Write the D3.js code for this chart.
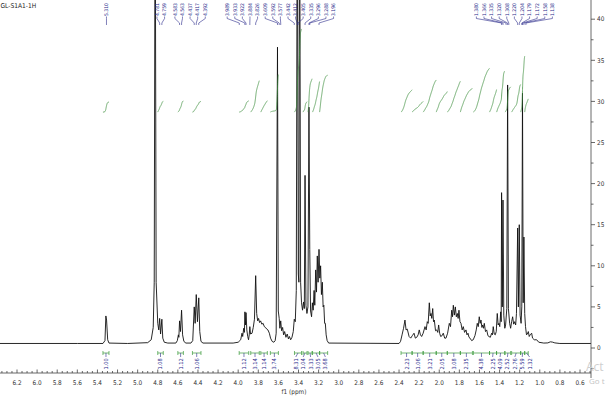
<!DOCTYPE html>
<html><head><meta charset="utf-8">
<script src="https://cdn.jsdelivr.net/npm/d3@7"></script>
<style>html,body{margin:0;padding:0;background:#fff;overflow:hidden}</style>
</head><body><svg id="c" width="607" height="396"></svg>
<script>
// ---------------- data ----------------
const title = "GL-S1A1-1H";
const xTickLabels = [6.2,6.0,5.8,5.6,5.4,5.2,5.0,4.8,4.6,4.4,4.2,4.0,3.8,3.6,3.4,3.2,3.0,2.8,2.6,2.4,2.2,2.0,1.8,1.6,1.4,1.2,1.0,0.8,0.6];
const yTickLabels = [0,5,10,15,20,25,30,35,40];
const xAxisTitle = "f1 (ppm)";

// spectrum trace: [ppm, intensity]
const spectrum = [
[6.40,0.55],[5.60,0.55],[5.345,0.55],[5.325,0.9],[5.316,3.9],[5.309,3.4],[5.298,1.0],[5.285,0.6],
[5.10,0.55],[4.90,0.65],[4.865,1.0],[4.845,2.5],[4.835,8],[4.826,60],[4.816,8],[4.80,3.0],[4.79,2.2],
[4.781,3.6],[4.772,1.7],[4.759,3.5],[4.750,1.2],[4.735,0.7],[4.70,0.6],[4.62,0.6],[4.605,0.9],[4.595,1.6],[4.59,1.3],
[4.583,3.3],[4.574,2.0],[4.563,4.6],[4.553,1.6],[4.54,0.8],[4.52,0.6],[4.47,0.6],[4.452,0.9],
[4.437,5.0],[4.428,3.0],[4.417,6.5],[4.405,3.2],[4.392,6.1],[4.382,2.0],[4.37,0.8],[4.35,0.6],
[4.05,0.6],[4.0,0.7],[3.975,1.0],[3.962,1.8],[3.955,1.4],[3.945,2.4],[3.938,1.9],[3.933,4.4],[3.927,2.8],[3.922,4.3],[3.914,2.2],[3.905,1.4],[3.897,1.0],
[3.89,1.6],[3.884,2.6],[3.877,1.7],[3.862,1.8],[3.85,2.5],[3.838,3.5],[3.826,8.8],[3.816,4.2],[3.806,3.3],[3.797,3.6],[3.787,3.1],[3.777,3.3],[3.765,2.9],[3.752,3.0],[3.74,2.6],[3.728,2.5],[3.716,2.3],[3.704,2.2],[3.69,1.8],[3.678,1.2],[3.662,0.8],[3.645,0.7],[3.632,0.9],[3.622,1.8],
[3.609,36.6],[3.601,4.5],[3.592,3.6],[3.585,2.4],[3.577,3.3],[3.568,2.1],[3.558,2.5],[3.548,1.6],[3.538,2.0],[3.525,1.3],[3.512,1.7],[3.50,1.1],[3.49,1.4],[3.478,1.0],[3.465,1.3],[3.452,2.0],
[3.442,3.5],[3.432,3.2],[3.422,7],[3.412,60],[3.402,9],[3.396,8],[3.389,60],[3.379,8],[3.37,5.5],[3.36,4.6],[3.35,5.6],[3.342,4.8],[3.335,21],[3.326,5.2],[3.316,4.2],[3.306,5],[3.296,29.3],[3.288,12],[3.28,4.5],[3.27,3.8],[3.262,5.5],[3.254,4.6],
[3.245,7],[3.238,5.2],[3.229,9.5],[3.221,6.8],[3.213,11.2],[3.205,8],[3.196,12],[3.188,8.5],[3.18,10],[3.172,6.5],[3.163,8],[3.155,5],[3.148,5.2],[3.14,3],[3.133,3],[3.125,1.6],[3.115,0.9],[3.10,0.6],
[2.40,0.55],[2.385,0.8],[2.37,1.6],[2.355,2.4],[2.341,3.4],[2.33,2.2],[2.318,2.3],[2.30,1.4],[2.284,1.2],[2.268,1.5],[2.251,1.8],[2.238,1.2],[2.224,1.3],[2.21,1.6],[2.199,2.2],[2.187,1.6],[2.175,1.4],[2.16,1.8],[2.142,2.6],[2.13,2.2],[2.119,3.2],[2.11,3.0],[2.099,5.5],[2.09,3.9],[2.082,4.2],[2.074,3.6],[2.065,4.8],[2.057,3.2],[2.049,3.4],[2.037,2.1],[2.025,2.2],[2.015,1.9],[2.006,2.8],[1.996,1.8],[1.986,1.4],[1.972,1.5],[1.96,1.8],[1.946,1.2],[1.933,1.2],[1.917,1.8],[1.90,3.0],[1.888,2.6],[1.876,4.6],[1.868,3.8],[1.86,5.2],[1.85,4.0],[1.84,5.0],[1.83,3.8],[1.82,4.2],[1.812,3.6],[1.804,4.6],[1.794,3.2],[1.784,3.0],[1.772,2.2],[1.761,2.6],[1.748,1.9],[1.734,2.2],[1.724,1.6],[1.714,1.8],[1.704,1.3],[1.694,1.2],[1.678,0.9],[1.662,1.0],[1.645,1.5],[1.632,2.2],[1.622,3.0],[1.612,2.6],[1.602,3.8],[1.593,3.0],[1.585,3.4],[1.576,2.5],[1.568,2.8],[1.56,2.4],[1.552,3.0],[1.54,2.0],[1.528,2.2],[1.516,1.5],[1.505,1.4],[1.492,1.3],[1.479,1.8],[1.471,1.6],[1.463,2.6],[1.453,1.7],[1.443,1.6],[1.433,2.0],[1.423,4.2],[1.414,2.8],[1.406,3.0],[1.398,2.6],[1.389,4.4],[1.384,3.2],[1.380,18.9],[1.373,5],[1.366,18],[1.358,4],[1.348,2.4],[1.34,2.8],[1.328,4.8],[1.320,32],[1.312,4.8],[1.30,3.0],[1.29,2.4],[1.28,3.2],[1.27,3.8],[1.26,2.9],[1.25,3.2],[1.24,2.8],[1.232,4.2],[1.220,14.6],[1.213,5],[1.204,15],[1.196,4],[1.186,3],[1.179,5],[1.172,31],[1.165,5.5],[1.158,13.5],[1.150,4.2],[1.142,2.6],[1.132,1.6],[1.124,1.7],[1.114,2.0],[1.105,1.4],[1.096,1.6],[1.081,1.8],[1.072,1.2],[1.055,1.0],[1.031,1.0],[1.01,0.7],[0.96,0.6],[0.92,0.62],[0.895,0.75],[0.875,0.72],[0.85,0.62],[0.80,0.55],[0.40,0.55]
];
const baselineLevel = 0.55;

// peak picking labels (ppm)
const peakLabelPpm = [5.310, 4.781,4.759,4.583,4.563,4.437,4.417,4.392,
  3.989,3.933,3.922,3.884,3.826,
  3.609,3.592,3.577,3.442,3.412,3.405,3.335,3.296,3.288,3.196,
  1.380,1.366,1.335,1.320,1.308,1.220,1.204,1.179,1.172,1.158,1.138];

// integration regions: [from ppm, to ppm]
const integralRanges = [
 [5.345,5.285],[4.80,4.745],[4.60,4.545],[4.455,4.37],
 [3.99,3.895],[3.875,3.79],[3.775,3.71],[3.68,3.60],
 [3.44,3.37],[3.355,3.315],[3.305,3.265],[3.26,3.19],[3.19,3.11],
 [2.38,2.27],[2.27,2.16],[2.16,2.03],[2.03,1.92],[1.92,1.79],[1.79,1.67],
 [1.66,1.50],[1.50,1.43],[1.43,1.35],[1.345,1.29],[1.28,1.19],[1.19,1.15],[1.15,1.115]
];
const integralValues = ["1.00","1.08","1.12","1.06",
 "1.12","3.14","1.14","3.74",
 "8.31","1.04","3.33","3.05","3.68",
 "2.23","1.06","3.21","2.05","3.08","2.35",
 "4.38","2.25","4.09","2.52","2.76","5.59","1.32"];
const integralBase = 28.7;     // level where integral curves start (axis units)
const integralScale = 1.217;   // axis units per unit of integral

// ---------------- drawing ----------------
const svg = d3.select("#c");
svg.append("rect").attr("width",607).attr("height",396).attr("fill","#fff");

const x = d3.scaleLinear().domain([6.2,0.6]).range([17,580]);
const y = d3.scaleLinear().domain([0,40]).range([348,19.2]);
const FONT = "'DejaVu Sans Condensed','DejaVu Sans',sans-serif";

svg.append("defs").append("clipPath").attr("id","plot")
  .append("rect").attr("x",0).attr("y",0).attr("width",591).attr("height",373);

// spectrum
svg.append("path").datum(spectrum)
  .attr("clip-path","url(#plot)")
  .attr("fill","none").attr("stroke","#111").attr("stroke-width",0.9)
  .attr("stroke-linejoin","round")
  .attr("d", d3.line().x(d=>x(d[0])).y(d=>y(d[1])));

// label spreading helper
function spread(xs, gap){
  const order = xs.map((v,i)=>i).sort((a,b)=>xs[a]-xs[b]);
  let cl = order.map(i=>({ids:[i], sum:xs[i]}));
  const start = c => c.sum/c.ids.length - (c.ids.length-1)*gap/2;
  let merged = true;
  while(merged){
    merged = false;
    for(let i=0;i<cl.length-1;i++){
      const a=cl[i], b=cl[i+1];
      const aEnd = start(a)+(a.ids.length-1)*gap;
      if(start(b)-aEnd < gap){
        cl.splice(i,2,{ids:a.ids.concat(b.ids), sum:a.sum+b.sum});
        merged = true; break;
      }
    }
  }
  const out = new Array(xs.length);
  cl.forEach(c=>{ const s=start(c); c.ids.forEach((id,k)=>out[id]=s+k*gap); });
  return out;
}

// interpolate spectrum for integral curves
function valueAt(p){
  for(let i=0;i<spectrum.length-1;i++){
    const a=spectrum[i], b=spectrum[i+1];
    if(p<=a[0] && p>=b[0]){ const t=(a[0]-p)/(a[0]-b[0]); return a[1]+t*(b[1]-a[1]); }
  }
  return baselineLevel;
}

// integral curves
const gInt = svg.append("g").attr("clip-path","url(#plot)");
integralRanges.forEach((r,i)=>{
  const n = 120, pts = [];
  let cum = 0; const cums=[0];
  for(let k=1;k<=n;k++){
    const p0 = r[0]+(r[1]-r[0])*(k-1)/n, p1 = r[0]+(r[1]-r[0])*k/n;
    cum += Math.max(0,(valueAt(p0)+valueAt(p1))/2 - baselineLevel);
    cums.push(cum);
  }
  const top = integralBase + (+integralValues[i])*integralScale;
  for(let k=0;k<=n;k++){
    const p = r[0]+(r[1]-r[0])*k/n;
    pts.push([p, integralBase + (cum>0?cums[k]/cum:k/n)*(top-integralBase)]);
  }
  gInt.append("path").datum(pts).attr("fill","none").attr("stroke","#3f8f3f").attr("stroke-width",0.75)
    .attr("d", d3.line().x(d=>x(d[0])).y(d=>y(d[1])));
});

// integration brackets + labels
const bracketY = 353;
const gBr = svg.append("g");
const centers = integralRanges.map(r=>x((r[0]+r[1])/2));
const labX = spread(centers, 7.4);
integralRanges.forEach((r,i)=>{
  const x0=x(r[0]), x1=x(r[1]);
  gBr.append("path").attr("fill","none").attr("stroke","#3a9a3a").attr("stroke-width",0.7)
    .attr("d",`M${x0},${bracketY}H${x1}M${x0},${bracketY-2}V${bracketY+2}M${x1},${bracketY-2}V${bracketY+2}`);
  gBr.append("path").attr("fill","none").attr("stroke","#2b2b8c").attr("stroke-width",0.6)
    .attr("d",`M${centers[i]},${bracketY}L${labX[i]},${bracketY+4}`);
  gBr.append("text").attr("transform",`translate(${labX[i]},${bracketY+16.5}) rotate(-90)`)
    .attr("dy","0.35em").attr("font-family",FONT).attr("font-size",5.6).attr("fill","#2b2b8c")
    .text(integralValues[i]);
});

// peak labels
const gPk = svg.append("g");
const pkX = peakLabelPpm.map(p=>x(p));
const pkLX = spread(pkX, 7.6);
peakLabelPpm.forEach((p,i)=>{
  gPk.append("text").attr("transform",`translate(${pkLX[i]},16) rotate(-90)`)
    .attr("dy","0.35em").attr("font-family",FONT).attr("font-size",5.0).attr("fill","#2b2b8c")
    .text(d3.format(".3f")(p));
  gPk.append("path").attr("fill","none").attr("stroke","#2b2b8c").attr("stroke-width",0.6)
    .attr("d",`M${pkLX[i]},16.5V18.5L${pkX[i]},23V25`);
});

// x axis
const gx = svg.append("g").attr("stroke","#444").attr("stroke-width",0.8);
gx.append("line").attr("x1",0).attr("x2",591).attr("y1",373).attr("y2",373);
const minorX = d3.range(0,120).map(k=>+(6.35-k*0.05).toFixed(2)).filter(v=>v>0.48);
minorX.forEach(v=>{
  const major = xTickLabels.some(t=>Math.abs(t-v)<1e-6);
  gx.append("line").attr("x1",x(v)).attr("x2",x(v)).attr("y1",373).attr("y2",373-(major?3.5:2));
});
xTickLabels.forEach(v=>{
  svg.append("text").attr("x",x(v)).attr("y",385).attr("text-anchor","middle")
    .attr("font-family",FONT).attr("font-size",6.4).attr("fill","#333").text(d3.format(".1f")(v));
});
svg.append("text").attr("x",294).attr("y",393.5).attr("text-anchor","middle")
  .attr("font-family",FONT).attr("font-size",6.4).attr("fill","#333").text(xAxisTitle);

// y axis (right)
const gy = svg.append("g").attr("stroke","#444").attr("stroke-width",0.8);
gy.append("line").attr("x1",591).attr("x2",591).attr("y1",0).attr("y2",378);
d3.range(-2.5,43,2.5).forEach(v=>{
  const major = yTickLabels.includes(v);
  gy.append("line").attr("x1",591).attr("x2",591+(major?4:2.5)).attr("y1",y(v)).attr("y2",y(v));
});
yTickLabels.forEach(v=>{
  svg.append("text").attr("x",597).attr("y",y(v)).attr("dy","0.35em")
    .attr("font-family",FONT).attr("font-size",6.4).attr("fill","#333").text(v);
});

// title
svg.append("text").attr("x",0.5).attr("y",8).attr("font-family",FONT).attr("font-size",6.6)
  .attr("fill","#222").text(title);

// OS watermark remnants visible at the edge
svg.append("text").attr("x",586).attr("y",371).attr("font-family","'Open Sans',sans-serif")
  .attr("font-size",12).attr("fill","#cfcfcf").text("Act");
svg.append("text").attr("x",589).attr("y",384).attr("font-family","'Open Sans',sans-serif")
  .attr("font-size",8).attr("fill","#c4c4c4").text("Go t");
</script></body></html>
